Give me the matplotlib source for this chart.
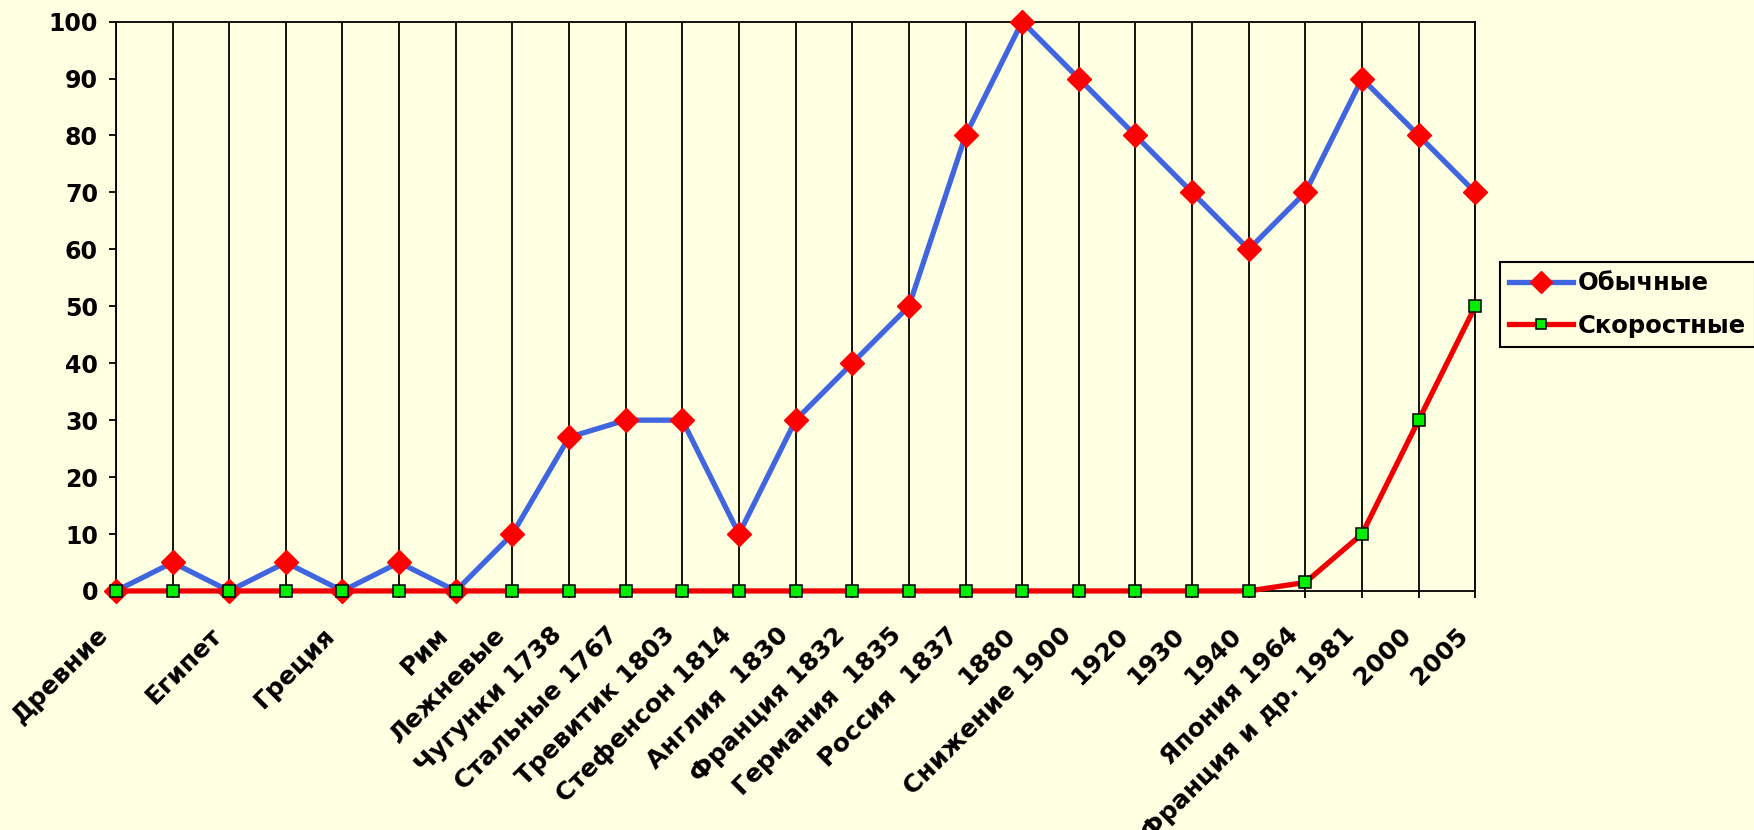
import matplotlib
matplotlib.use('Agg')
import matplotlib.pyplot as plt
import matplotlib.transforms as mtransforms

# Categories along the x axis (blank slots keep the spacing of the early eras)
categories = ['Древние', '', 'Египет', '', 'Греция', '', 'Рим', 'Лежневые',
              'Чугунки 1738', 'Стальные 1767', 'Тревитик 1803', 'Стефенсон 1814',
              'Англия  1830', 'Франция 1832', 'Германия  1835', 'Россия  1837',
              '1880', 'Снижение 1900', '1920', '1930', '1940', 'Япония 1964',
              'Франция и др. 1981', '2000', '2005']

ordinary = [0, 5, 0, 5, 0, 5, 0, 10, 27, 30, 30, 10, 30, 40, 50, 80,
            100, 90, 80, 70, 60, 70, 90, 80, 70]
high_speed = [0, 0, 0, 0, 0, 0, 0, 0, 0, 0, 0, 0, 0, 0, 0, 0,
              0, 0, 0, 0, 0, 1.5, 10, 30, 50]

y_ticks = [0, 10, 20, 30, 40, 50, 60, 70, 80, 90, 100]

BG = '#FFFFE1'

plt.rcParams['font.family'] = ['DejaVu Sans']
plt.rcParams['font.weight'] = 'bold'

fig = plt.figure(figsize=(17.54, 8.30), dpi=100, facecolor=BG)
ax = fig.add_axes([0.0661, 0.288, 0.775, 0.686], facecolor=BG)

x = list(range(len(categories)))

ax.plot(x, ordinary, color='#3F66E0', linewidth=3.8, marker='D',
        markersize=12.7, markerfacecolor='#FF0000', markeredgecolor='#FF0000',
        label='Обычные', zorder=3, clip_on=False)
ax.plot(x, high_speed, color='#F00000', linewidth=3.8, marker='s',
        markersize=8, markerfacecolor='#00EE00', markeredgecolor='black',
        markeredgewidth=1.1, label='Скоростные', zorder=4, clip_on=False)

ax.set_xlim(0, len(categories) - 1)
ax.set_ylim(0, 100)

# Vertical gridlines at every category
ax.set_xticks(x)
ax.xaxis.grid(True, color='black', linewidth=1.3)
ax.yaxis.grid(False)
ax.set_axisbelow(True)

ax.set_yticks(y_ticks)
ax.tick_params(axis='y', direction='out', length=5, width=1.3, pad=8,
               labelsize=17)
ax.tick_params(axis='x', direction='out', length=5, width=1.3, pad=24,
               labelsize=18)

ax.set_xticklabels(categories, rotation=45, ha='right', va='center',
                   rotation_mode='anchor')
shift = mtransforms.ScaledTranslation(-8 / 72, 0, fig.dpi_scale_trans)
for lbl in ax.get_xticklabels():
    lbl.set_transform(lbl.get_transform() + shift)
for lbl in ax.get_xticklabels() + ax.get_yticklabels():
    lbl.set_fontweight('bold')

for side in ['left', 'bottom', 'top', 'right']:
    ax.spines[side].set_color('black')
    ax.spines[side].set_linewidth(1.3)

leg = fig.legend(loc='center left', bbox_to_anchor=(0.855, 0.633),
                 fontsize=17.5, frameon=True, fancybox=False,
                 edgecolor='black', facecolor=BG, framealpha=1,
                 handlelength=2.6, handletextpad=0.2, labelspacing=0.75,
                 borderpad=0.4, borderaxespad=0, markerscale=0.85)
leg.get_frame().set_linewidth(1.5)
for t in leg.get_texts():
    t.set_fontweight('bold')

fig.savefig('out.png', dpi=100, facecolor=BG)
